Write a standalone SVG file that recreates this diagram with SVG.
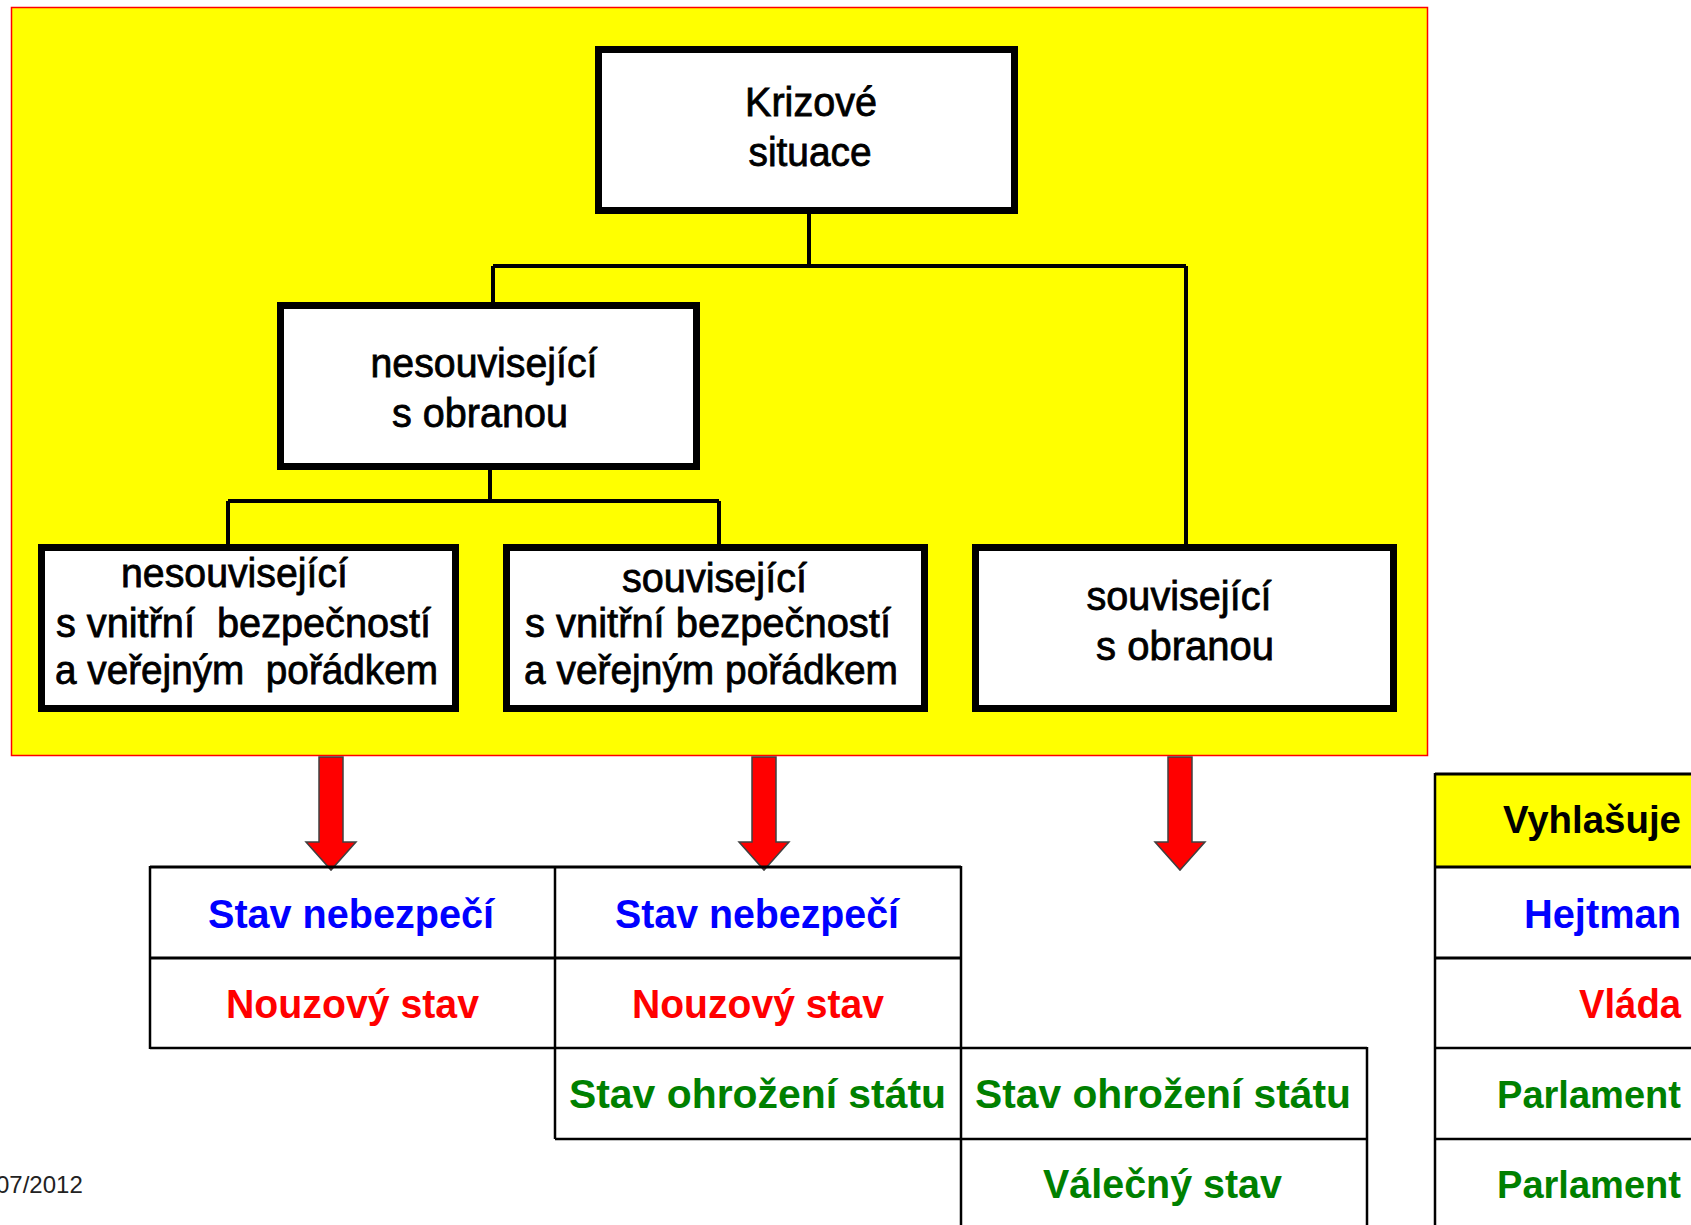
<svg xmlns="http://www.w3.org/2000/svg" width="1691" height="1225" viewBox="0 0 1691 1225">
<style>
.box{fill:#fff;stroke:#000;stroke-width:7}
.t{font-family:"Liberation Sans",Arial,sans-serif;font-size:40px;fill:#000;text-anchor:middle;stroke:#000;stroke-width:0.8;white-space:pre}
.c{fill:none;stroke:#000;stroke-width:4}
.arr{fill:#ff0000;stroke:#404040;stroke-width:1.5}
.tl{stroke:#000;stroke-width:2.5;fill:none}
.tk{stroke:#000;stroke-width:3.2;fill:none}
.s{font-family:"Liberation Sans",Arial,sans-serif;font-size:41px;font-weight:bold;text-anchor:middle}
.e{text-anchor:end}
.blue{fill:#0000ff}.red{fill:#ff0000}.green{fill:#008000}.black{fill:#000}
</style>
<rect x="11.5" y="7.5" width="1416" height="748" fill="#ffff00" stroke="#ff0000" stroke-width="1.5"/>
<g id="connectors">
<path class="c" d="M809 214V266M493 266H1186M493 266V302M1186 266V544"/>
<path class="c" d="M490 470V501M228 501H719M228 501V544M719 501V544"/>
</g>
<g id="krizove">
<rect class="box" x="598.5" y="49.5" width="416" height="161"/>
<text class="t" x="811" y="116" textLength="132" lengthAdjust="spacingAndGlyphs">Krizové</text>
<text class="t" x="810" y="166" textLength="123" lengthAdjust="spacingAndGlyphs">situace</text>
</g>
<g id="nesouvisejici-obrana">
<rect class="box" x="280.5" y="305.5" width="416" height="161"/>
<text class="t" x="484" y="377" textLength="227" lengthAdjust="spacingAndGlyphs">nesouvisející</text>
<text class="t" x="480" y="427" textLength="176" lengthAdjust="spacingAndGlyphs">s obranou</text>
</g>
<g id="nesouvisejici-bezpecnost">
<rect class="box" x="41.5" y="547.5" width="414" height="161"/>
<text class="t" x="234.5" y="587" textLength="227" lengthAdjust="spacingAndGlyphs">nesouvisející</text>
<text class="t" x="243.5" y="637" textLength="375" lengthAdjust="spacingAndGlyphs">s vnitřní  bezpečností</text>
<text class="t" x="246.5" y="684" textLength="383" lengthAdjust="spacingAndGlyphs">a veřejným  pořádkem</text>
</g>
<g id="souvisejici-bezpecnost">
<rect class="box" x="506.5" y="547.5" width="418" height="161"/>
<text class="t" x="714.5" y="592" textLength="185" lengthAdjust="spacingAndGlyphs">související</text>
<text class="t" x="708" y="637" textLength="366" lengthAdjust="spacingAndGlyphs">s vnitřní bezpečností</text>
<text class="t" x="711" y="684" textLength="374" lengthAdjust="spacingAndGlyphs">a veřejným pořádkem</text>
</g>
<g id="souvisejici-obrana">
<rect class="box" x="975.5" y="547.5" width="418" height="161"/>
<text class="t" x="1179" y="610" textLength="185" lengthAdjust="spacingAndGlyphs">související</text>
<text class="t" x="1185" y="660" textLength="178" lengthAdjust="spacingAndGlyphs">s obranou</text>
</g>
<g id="arrows">
<path class="arr" d="M319 757H343V842H356L331 870L306 842H319Z"/>
<path class="arr" d="M752 757H776V842H789L764 870L739 842H752Z"/>
<path class="arr" d="M1168 757H1192V842H1205L1180 870L1155 842H1168Z"/>
</g>
<g id="table-states">
<path class="tk" d="M150 867H961M150 958H961"/>
<path class="tl" d="M150 1048H1367M555 1139H1367M150 866V1049M555 866V1139M961 866V1225M1367 1047V1225"/>
<text class="s blue" x="351" y="928" textLength="286" lengthAdjust="spacingAndGlyphs">Stav nebezpečí</text>
<text class="s blue" x="757" y="928" textLength="284" lengthAdjust="spacingAndGlyphs">Stav nebezpečí</text>
<text class="s red" x="352.5" y="1018" textLength="253" lengthAdjust="spacingAndGlyphs">Nouzový stav</text>
<text class="s red" x="758" y="1018" textLength="252" lengthAdjust="spacingAndGlyphs">Nouzový stav</text>
<text class="s green" x="757.5" y="1108" textLength="377" lengthAdjust="spacingAndGlyphs">Stav ohrožení státu</text>
<text class="s green" x="1163" y="1108" textLength="376" lengthAdjust="spacingAndGlyphs">Stav ohrožení státu</text>
<text class="s green" x="1162.5" y="1198" textLength="239" lengthAdjust="spacingAndGlyphs">Válečný stav</text>
</g>
<g id="table-vyhlasuje">
<rect x="1435" y="774" width="256" height="93" fill="#ffff00"/>
<path class="tk" d="M1435 774H1691M1435 867H1691M1435 958H1691"/>
<path class="tl" d="M1435 1048H1691M1435 1139H1691M1435 773V1225"/>
<text class="s e black" x="1681" y="833" font-size="38" style="font-size:38px" textLength="178" lengthAdjust="spacingAndGlyphs">Vyhlašuje</text>
<text class="s e blue" x="1681" y="928" textLength="157" lengthAdjust="spacingAndGlyphs">Hejtman</text>
<text class="s e red" x="1681" y="1018" textLength="102" lengthAdjust="spacingAndGlyphs">Vláda</text>
<text class="s e green" x="1681" y="1108" style="font-size:38px" textLength="184" lengthAdjust="spacingAndGlyphs">Parlament</text>
<text class="s e green" x="1681" y="1198" style="font-size:38px" textLength="184" lengthAdjust="spacingAndGlyphs">Parlament</text>
</g>
<text x="-4" y="1193" font-family="Liberation Sans, Arial, sans-serif" font-size="24" fill="#222">07/2012</text>
</svg>
